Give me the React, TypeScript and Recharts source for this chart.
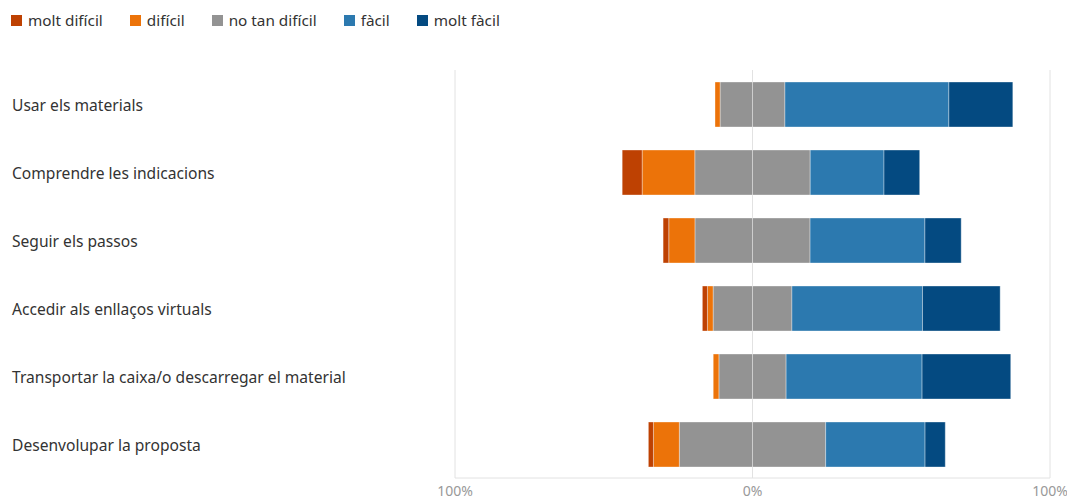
import React from "react";
import { BarChart, Bar, XAxis, YAxis, CartesianGrid } from "recharts";

const categories = [
  "Usar els materials",
  "Comprendre les indicacions",
  "Seguir els passos",
  "Accedir als enllaços virtuals",
  "Transportar la caixa/o descarregar el material",
  "Desenvolupar la proposta",
];
const moltDificil = [0, 6.7, 1.9, 1.7, 0, 1.7];
const dificil = [1.7, 17.7, 8.8, 1.9, 1.9, 8.7];
const noTanDificil = [21.8, 38.8, 38.7, 26.5, 22.6, 49.2];
const facil = [55.1, 24.8, 38.6, 43.9, 45.7, 33.4];
const moltFacil = [21.5, 12.0, 12.2, 26.1, 29.8, 6.8];
const xTicks = [-100, 0, 100];

const legendItems = [
  { label: "molt difícil", color: "#BE4102" },
  { label: "difícil", color: "#EC7309" },
  { label: "no tan difícil", color: "#939393" },
  { label: "fàcil", color: "#2C79AF" },
  { label: "molt fàcil", color: "#044A81" },
];

const data = categories.map((name, i) => ({
  name,
  neutralNeg: -noTanDificil[i] / 2,
  dificilNeg: -dificil[i],
  moltDificilNeg: -moltDificil[i],
  neutralPos: noTanDificil[i] / 2,
  facil: facil[i],
  moltFacil: moltFacil[i],
}));

const FONT = "'Noto Sans', sans-serif";
const edge = "rgba(255,255,255,0.35)";

const YTick = (props: any) => {
  const { y, payload } = props;
  return (
    <text x={4} y={y} dy={6.5} textAnchor="start" fontSize={15.6} fill="#333" fontFamily={FONT}>
      {payload.value}
    </text>
  );
};

export default function App() {
  return (
    <div style={{ position: "relative", width: 1059, height: 492, fontFamily: FONT }}>
      <div
        style={{
          position: "absolute",
          left: 3,
          top: 2,
          display: "flex",
          alignItems: "center",
          fontSize: 15.3,
          color: "#333",
          zIndex: 2,
        }}
      >
        {legendItems.map((it) => (
          <div key={it.label} style={{ display: "flex", alignItems: "center", marginRight: 27 }}>
            <span style={{ display: "inline-block", width: 11, height: 11, background: it.color, marginRight: 6 }} />
            <span>{it.label}</span>
          </div>
        ))}
      </div>
      <BarChart
        width={1059}
        height={492}
        data={data}
        layout="vertical"
        stackOffset="sign"
        margin={{ top: 62, right: 17, bottom: 0, left: 0 }}
      >
        <CartesianGrid horizontal={false} vertical={true} stroke="#e2e2e2" />
        <XAxis
          type="number"
          domain={[-100, 100]}
          ticks={xTicks}
          tickFormatter={(v: number) => `${Math.abs(v)}%`}
          axisLine={{ stroke: "#e2e2e2" }}
          tickLine={false}
          height={22}
          tick={{ fontSize: 14, fill: "#999", fontFamily: FONT }}
        />
        <YAxis
          type="category"
          dataKey="name"
          width={447}
          axisLine={false}
          tickLine={false}
          tick={<YTick />}
        />
        <Bar dataKey="neutralNeg" stackId="a" fill="#939393" stroke={edge} barSize={45} isAnimationActive={false} />
        <Bar dataKey="dificilNeg" stackId="a" fill="#EC7309" stroke={edge} barSize={45} isAnimationActive={false} />
        <Bar dataKey="moltDificilNeg" stackId="a" fill="#BE4102" stroke={edge} barSize={45} isAnimationActive={false} />
        <Bar dataKey="neutralPos" stackId="a" fill="#939393" stroke={edge} barSize={45} isAnimationActive={false} />
        <Bar dataKey="facil" stackId="a" fill="#2C79AF" stroke={edge} barSize={45} isAnimationActive={false} />
        <Bar dataKey="moltFacil" stackId="a" fill="#044A81" stroke={edge} barSize={45} isAnimationActive={false} />
      </BarChart>
    </div>
  );
}
